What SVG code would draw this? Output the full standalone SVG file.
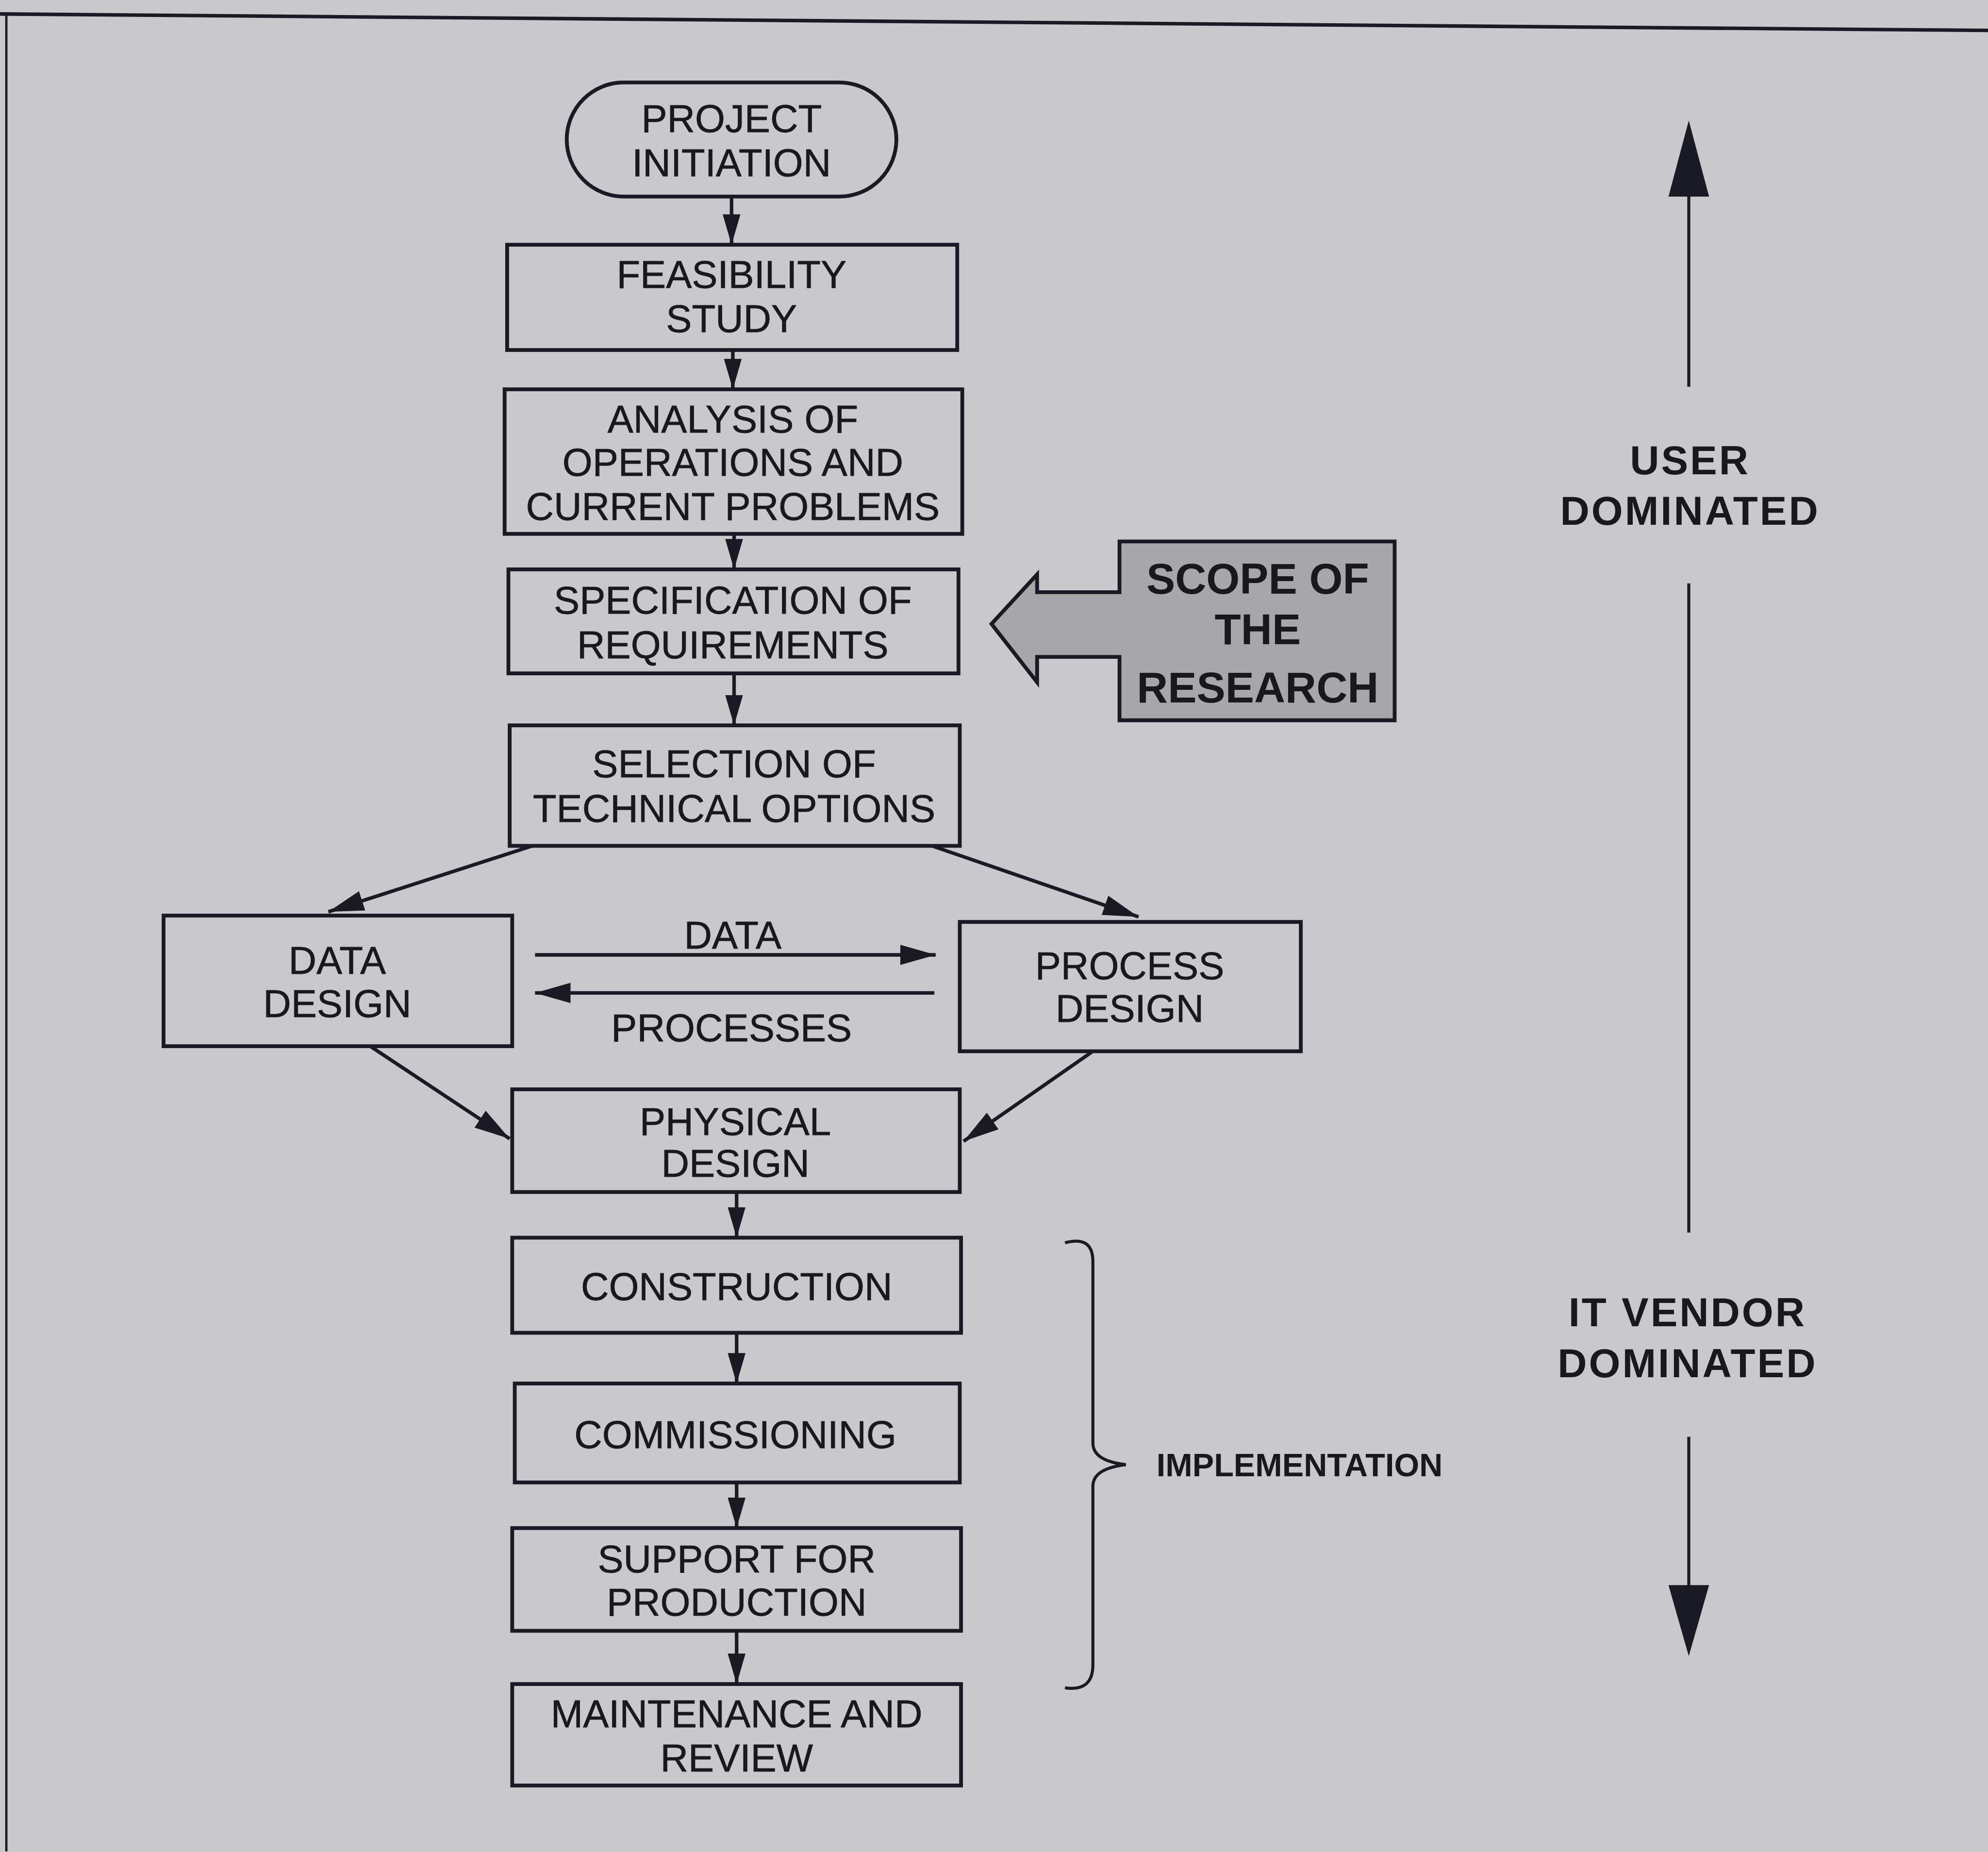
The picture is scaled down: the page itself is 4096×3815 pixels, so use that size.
<svg xmlns="http://www.w3.org/2000/svg" width="4096" height="3815" viewBox="0 0 4096 3815">
  <style>
    .box { fill: none; stroke: #1a1a24; stroke-width: 3; }
    .lbl { font-family: "Liberation Sans", Arial, sans-serif; font-size: 30.5px; fill: #18181f; text-anchor: middle; stroke: #18181f; stroke-width: 0.3; }
    .bold { font-family: "Liberation Sans", Arial, sans-serif; font-weight: bold; fill: #18181f; text-anchor: middle; }
    .link { fill: none; stroke: #1a1a24; stroke-width: 2.8; }
    .thin { fill: none; stroke: #1a1a24; stroke-width: 2.4; }
  </style>
  <defs>
    <marker id="head" viewBox="0 0 24 14" refX="24" refY="7" markerWidth="24" markerHeight="14" markerUnits="userSpaceOnUse" orient="auto">
      <path d="M0,0 L24,7 L0,14 Z" fill="#1a1a24"/>
    </marker>
    <marker id="headWide" viewBox="0 0 28 16" refX="28" refY="8" markerWidth="28" markerHeight="16" markerUnits="userSpaceOnUse" orient="auto">
      <path d="M0,0 L28,8 L0,16 Z" fill="#1a1a24"/>
    </marker>
  </defs>

  <rect x="0" y="0" width="4096" height="3815" fill="#c9c9cd"/>

  <g transform="scale(2.61224)">
    <!-- page frame -->
    <g id="frame">
      <line x1="0" y1="11" x2="1568" y2="24" stroke="#1a1a24" stroke-width="2.8"/>
      <line x1="5" y1="11" x2="5" y2="1460" stroke="#1a1a24" stroke-width="1.8"/>
    </g>

    <!-- connectors -->
    <g id="connectors">
      <line class="link" x1="577" y1="155" x2="577" y2="193" marker-end="url(#head)"/>
      <line class="link" x1="578" y1="276" x2="578" y2="307" marker-end="url(#head)"/>
      <line class="link" x1="579" y1="421" x2="579" y2="449" marker-end="url(#head)"/>
      <line class="link" x1="579" y1="531" x2="579" y2="572" marker-end="url(#head)"/>
      <line class="link" x1="420" y1="667" x2="259" y2="719" marker-end="url(#headWide)"/>
      <line class="link" x1="735" y1="667" x2="898" y2="723" marker-end="url(#headWide)"/>
      <line class="link" x1="422" y1="753" x2="738" y2="753" marker-end="url(#headWide)"/>
      <line class="link" x1="737" y1="783" x2="422" y2="783" marker-end="url(#headWide)"/>
      <line class="link" x1="292" y1="825" x2="402" y2="898" marker-end="url(#headWide)"/>
      <line class="link" x1="862" y1="829" x2="760" y2="900" marker-end="url(#headWide)"/>
      <line class="link" x1="581" y1="940" x2="581" y2="976" marker-end="url(#head)"/>
      <line class="link" x1="581" y1="1051" x2="581" y2="1091" marker-end="url(#head)"/>
      <line class="link" x1="581" y1="1169" x2="581" y2="1205" marker-end="url(#head)"/>
      <line class="link" x1="581" y1="1286" x2="581" y2="1328" marker-end="url(#head)"/>
    </g>

    <!-- labels on the data / process exchange -->
    <g id="exchange-labels">
      <text class="lbl" x="578" y="748">DATA</text>
      <text class="lbl" x="577" y="821">PROCESSES</text>
    </g>

    <g id="project-initiation">
      <rect class="box" x="447" y="65" width="260" height="90" rx="45" ry="45"/>
      <text class="lbl" x="577" y="104">PROJECT</text>
      <text class="lbl" x="577" y="139">INITIATION</text>
    </g>

    <g id="feasibility-study">
      <rect class="box" x="400" y="193" width="355" height="83"/>
      <text class="lbl" x="577" y="227">FEASIBILITY</text>
      <text class="lbl" x="577" y="262">STUDY</text>
    </g>

    <g id="analysis">
      <rect class="box" x="398" y="307" width="361" height="114"/>
      <text class="lbl" x="578" y="341">ANALYSIS OF</text>
      <text class="lbl" x="578" y="375">OPERATIONS AND</text>
      <text class="lbl" x="578" y="410">CURRENT PROBLEMS</text>
    </g>

    <g id="specification">
      <rect class="box" x="401" y="449" width="355" height="82"/>
      <text class="lbl" x="578" y="484">SPECIFICATION OF</text>
      <text class="lbl" x="578" y="519">REQUIREMENTS</text>
    </g>

    <g id="selection">
      <rect class="box" x="402" y="572" width="355" height="95"/>
      <text class="lbl" x="579" y="613">SELECTION OF</text>
      <text class="lbl" x="579" y="648">TECHNICAL OPTIONS</text>
    </g>

    <g id="data-design">
      <rect class="box" x="129" y="722" width="275" height="103"/>
      <text class="lbl" x="266" y="768">DATA</text>
      <text class="lbl" x="266" y="802">DESIGN</text>
    </g>

    <g id="process-design">
      <rect class="box" x="757" y="727" width="269" height="102"/>
      <text class="lbl" x="891" y="772">PROCESS</text>
      <text class="lbl" x="891" y="806">DESIGN</text>
    </g>

    <g id="physical-design">
      <rect class="box" x="404" y="859" width="353" height="81"/>
      <text class="lbl" x="580" y="895">PHYSICAL</text>
      <text class="lbl" x="580" y="928">DESIGN</text>
    </g>

    <g id="construction">
      <rect class="box" x="404" y="976" width="354" height="75"/>
      <text class="lbl" x="581" y="1025">CONSTRUCTION</text>
    </g>

    <g id="commissioning">
      <rect class="box" x="406" y="1091" width="351" height="78"/>
      <text class="lbl" x="580" y="1142">COMMISSIONING</text>
    </g>

    <g id="support-for-production">
      <rect class="box" x="404" y="1205" width="354" height="81"/>
      <text class="lbl" x="581" y="1240">SUPPORT FOR</text>
      <text class="lbl" x="581" y="1274">PRODUCTION</text>
    </g>

    <g id="maintenance-and-review">
      <rect class="box" x="404" y="1328" width="354" height="80"/>
      <text class="lbl" x="581" y="1362">MAINTENANCE AND</text>
      <text class="lbl" x="581" y="1397">REVIEW</text>
    </g>

    <!-- block arrow pointing at the specification stage -->
    <g id="scope-of-research">
      <path d="M883,427 L1100,427 L1100,568 L883,568 L883,518 L818,518 L818,538 L782,492 L818,453 L818,467 L883,467 Z"
            fill="#a7a7aa" stroke="#1a1a24" stroke-width="3" stroke-linejoin="miter"/>
      <text class="bold" x="992" y="468" font-size="34">SCOPE OF</text>
      <text class="bold" x="992" y="508" font-size="34">THE</text>
      <text class="bold" x="992" y="554" font-size="34">RESEARCH</text>
    </g>

    <!-- brace grouping the implementation stages -->
    <g id="implementation">
      <path class="thin" d="M840,980 Q862,974 862,995 L862,1138 Q862,1152 888,1155 Q862,1158 862,1172 L862,1313 Q862,1334 840,1331"/>
      <text class="bold" x="1025" y="1164" font-size="25.5">IMPLEMENTATION</text>
    </g>

    <!-- user / vendor scale on the right -->
    <g id="dominance-scale">
      <line class="thin" x1="1332" y1="305" x2="1332" y2="150"/>
      <path d="M1332,95 L1348,155 L1316,155 Z" fill="#1a1a24"/>
      <text class="bold" x="1333" y="374" font-size="32" letter-spacing="1.5">USER</text>
      <text class="bold" x="1333" y="414" font-size="32" letter-spacing="1.5">DOMINATED</text>
      <line class="thin" x1="1332" y1="460" x2="1332" y2="972"/>
      <text class="bold" x="1331" y="1046" font-size="32" letter-spacing="1.5">IT VENDOR</text>
      <text class="bold" x="1331" y="1086" font-size="32" letter-spacing="1.5">DOMINATED</text>
      <line class="thin" x1="1332" y1="1133" x2="1332" y2="1255"/>
      <path d="M1316,1250 L1348,1250 L1332,1306 Z" fill="#1a1a24"/>
    </g>
  </g>
</svg>
